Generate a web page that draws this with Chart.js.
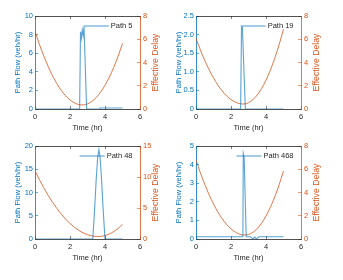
<!DOCTYPE html>
<html>
<head>
<meta charset="utf-8">
<script src="https://cdn.jsdelivr.net/npm/chart.js@4/dist/chart.umd.min.js"></script>
<style>
    body { margin: 0; background: #fff; }
    canvas { position: absolute; }
</style>
</head>
<body>
<canvas id="p5" width="170" height="140" style="left:0;top:0"></canvas>
<canvas id="p19" width="170" height="140" style="left:161px;top:0"></canvas>
<canvas id="p48" width="170" height="140" style="left:0;top:130px"></canvas>
<canvas id="p468" width="170" height="140" style="left:161px;top:130px"></canvas>
<script>
// ortak zaman ekseni (gecikme eğrileri)
const delayTimes = [0, 0.25, 0.5, 0.75, 1, 1.25, 1.5, 1.75, 2, 2.25, 2.5, 2.75, 3, 3.25, 3.5, 3.75, 4, 4.25, 4.5, 4.75, 5];
const xTicks = [0, 2, 4, 6];

// Path 5
const flowTimes5 = [0, 2.55, 2.6, 2.65, 2.7, 2.75, 2.8, 2.95, 3.7, 3.72, 5];
const flow5 = [0, 0, 8.3, 7.6, 8.5, 7.9, 8.9, 0, 0, 0.1, 0.1];
const delay5 = [6.7, 5.57, 4.56, 3.66, 2.86, 2.18, 1.6, 1.14, 0.78, 0.53, 0.38, 0.35, 0.44, 0.65, 0.99, 1.45, 2.04, 2.75, 3.59, 4.55, 5.64];

// Path 19
const flowTimes19 = [0, 2.55, 2.6, 2.65, 2.82, 5];
const flow19 = [0, 0, 2.2, 2.2, 0, 0];
const delay19 = [6.08, 5.08, 4.18, 3.38, 2.67, 2.06, 1.55, 1.13, 0.81, 0.59, 0.46, 0.43, 0.54, 0.8, 1.21, 1.77, 2.48, 3.35, 4.37, 5.54, 6.86];

// Path 48
const flowTimes48 = [0, 3.3, 3.4, 3.5, 3.58, 3.65, 3.72, 3.8, 3.9, 4.0, 5];
const flow48 = [0, 0, 6, 13, 17.5, 19.2, 17.5, 13, 6, 0, 0];
const delay48 = [11.0, 9.58, 8.26, 7.04, 5.93, 4.92, 4.01, 3.2, 2.49, 1.89, 1.39, 0.99, 0.69, 0.5, 0.41, 0.42, 0.56, 0.82, 1.21, 1.72, 2.36];

// Path 468
const flowTimes468 = [0, 2.68, 2.7, 2.75, 2.87, 3.1, 3.25, 3.35, 3.45, 3.6, 5];
const flow468 = [0.12, 0.12, 4.6, 4.4, 0.12, 0.12, 0, 0.1, 0, 0.12, 0.12];
const delay468 = [6.8, 5.7, 4.7, 3.8, 3.01, 2.32, 1.73, 1.25, 0.87, 0.59, 0.41, 0.34, 0.39, 0.57, 0.9, 1.37, 1.98, 2.73, 3.63, 4.67, 5.85];

const BLUE = '#0072BD';
const ORANGE = '#D95319';
const GRAY = '#262626';
const FONT = 'Liberation Sans, Arial, sans-serif';

/**
 * Sağ eksen başlığını MATLAB gibi aşağıdan yukarı yaz
 */
const rightTitlePlugin = {
    id: 'rightTitle',
    afterDraw(chart, args, opts) {
        const {ctx, chartArea} = chart;
        ctx.save();
        ctx.translate(chartArea.right + 15.5, (chartArea.top + chartArea.bottom) / 2);
        ctx.rotate(-Math.PI / 2);
        ctx.fillStyle = ORANGE;
        ctx.font = '8.7px ' + FONT;
        ctx.textAlign = 'center';
        ctx.textBaseline = 'middle';
        ctx.fillText(opts.text, 0, 0);
        ctx.restore();
    }
};

/**
 * Kutusuz legend: sağ üst köşede çizgi + etiket
 */
const cornerLegendPlugin = {
    id: 'cornerLegend',
    afterDatasetsDraw(chart) {
        const {ctx, chartArea} = chart;
        const ds = chart.data.datasets[0];
        ctx.save();
        ctx.font = '7.5px ' + FONT;
        const w = ctx.measureText(ds.label).width;
        const textX = chartArea.right - 7.5 - w;
        const y = chartArea.top + 10;
        ctx.strokeStyle = ds.borderColor;
        ctx.lineWidth = ds.borderWidth;
        ctx.beginPath();
        ctx.moveTo(textX - 27, y);
        ctx.lineTo(textX - 2, y);
        ctx.stroke();
        ctx.fillStyle = GRAY;
        ctx.textBaseline = 'middle';
        ctx.fillText(ds.label, textX, y);
        ctx.restore();
    }
};

/**
 * Tek bir alt grafik çiz
 */
function renderPanel(id, label, flowTimes, flow, delay, flowMax, flowStep, delayMax, delayStep) {
    const ctx = document.getElementById(id);
    if (!ctx) return;

    new Chart(ctx, {
        type: 'line',
        data: {
            datasets: [{
                label: label,
                data: flowTimes.map((t, i) => ({x: t, y: flow[i]})),
                borderColor: 'rgba(0, 114, 189, 0.65)',
                backgroundColor: 'rgba(0, 114, 189, 0.65)',
                borderWidth: 1.1,
                pointRadius: 0,
                tension: 0,
                yAxisID: 'y'
            }, {
                label: 'delay',
                data: delayTimes.map((t, i) => ({x: t, y: delay[i]})),
                borderColor: ORANGE,
                backgroundColor: ORANGE,
                borderWidth: 0.8,
                pointRadius: 0,
                cubicInterpolationMode: 'monotone',
                yAxisID: 'y1'
            }]
        },
        options: {
            responsive: false,
            animation: false,
            devicePixelRatio: 1,
            layout: {padding: {top: 16, left: 0, right: 0, bottom: 0}},
            plugins: {
                tooltip: {enabled: false},
                legend: {display: false},
                rightTitle: {text: 'Effective Delay'}
            },
            scales: {
                x: {
                    type: 'linear',
                    position: 'bottom',
                    min: 0,
                    max: 6,
                    afterBuildTicks: s => { s.ticks = xTicks.map(v => ({value: v})); },
                    afterFit: s => { s.height = 31; },
                    grid: {drawOnChartArea: false, tickLength: -3, color: GRAY, lineWidth: 0.6},
                    border: {color: GRAY, width: 0.8},
                    ticks: {color: GRAY, padding: 6.5, font: {family: FONT, size: 7.5}},
                    title: {display: true, text: 'Time (hr)', color: GRAY, padding: {top: 0, bottom: 8}, font: {family: FONT, size: 7.5}}
                },
                xTop: {
                    type: 'linear',
                    position: 'top',
                    min: 0,
                    max: 6,
                    afterBuildTicks: s => { s.ticks = xTicks.map(v => ({value: v})); },
                    afterFit: s => { s.height = 0; },
                    grid: {drawOnChartArea: false, tickLength: -3, color: GRAY, lineWidth: 0.6},
                    border: {color: GRAY, width: 0.8},
                    ticks: {display: false}
                },
                y: {
                    position: 'left',
                    min: 0,
                    max: flowMax,
                    afterFit: s => { s.width = 35; },
                    grid: {drawOnChartArea: false, tickLength: -3, color: BLUE, lineWidth: 0.6},
                    border: {color: BLUE, width: 0.8},
                    ticks: {stepSize: flowStep, color: BLUE, padding: 5, font: {family: FONT, size: 7.5}},
                    title: {display: true, text: 'Path Flow (veh/hr)', color: BLUE, padding: {top: 13, bottom: 0}, font: {family: FONT, size: 7.5}}
                },
                y1: {
                    position: 'right',
                    min: 0,
                    max: delayMax,
                    afterFit: s => { s.width = 30; },
                    grid: {drawOnChartArea: false, tickLength: -3, color: ORANGE, lineWidth: 0.6},
                    border: {color: ORANGE, width: 0.8},
                    ticks: {stepSize: delayStep, color: ORANGE, padding: 6, font: {family: FONT, size: 7.5}}
                }
            }
        },
        plugins: [rightTitlePlugin, cornerLegendPlugin]
    });
}

renderPanel('p5', 'Path 5', flowTimes5, flow5, delay5, 10, 2, 8, 2);
renderPanel('p19', 'Path 19', flowTimes19, flow19, delay19, 2.5, 0.5, 8, 2);
renderPanel('p48', 'Path 48', flowTimes48, flow48, delay48, 20, 5, 15, 5);
renderPanel('p468', 'Path 468', flowTimes468, flow468, delay468, 5, 1, 8, 2);
</script>
</body>
</html>
